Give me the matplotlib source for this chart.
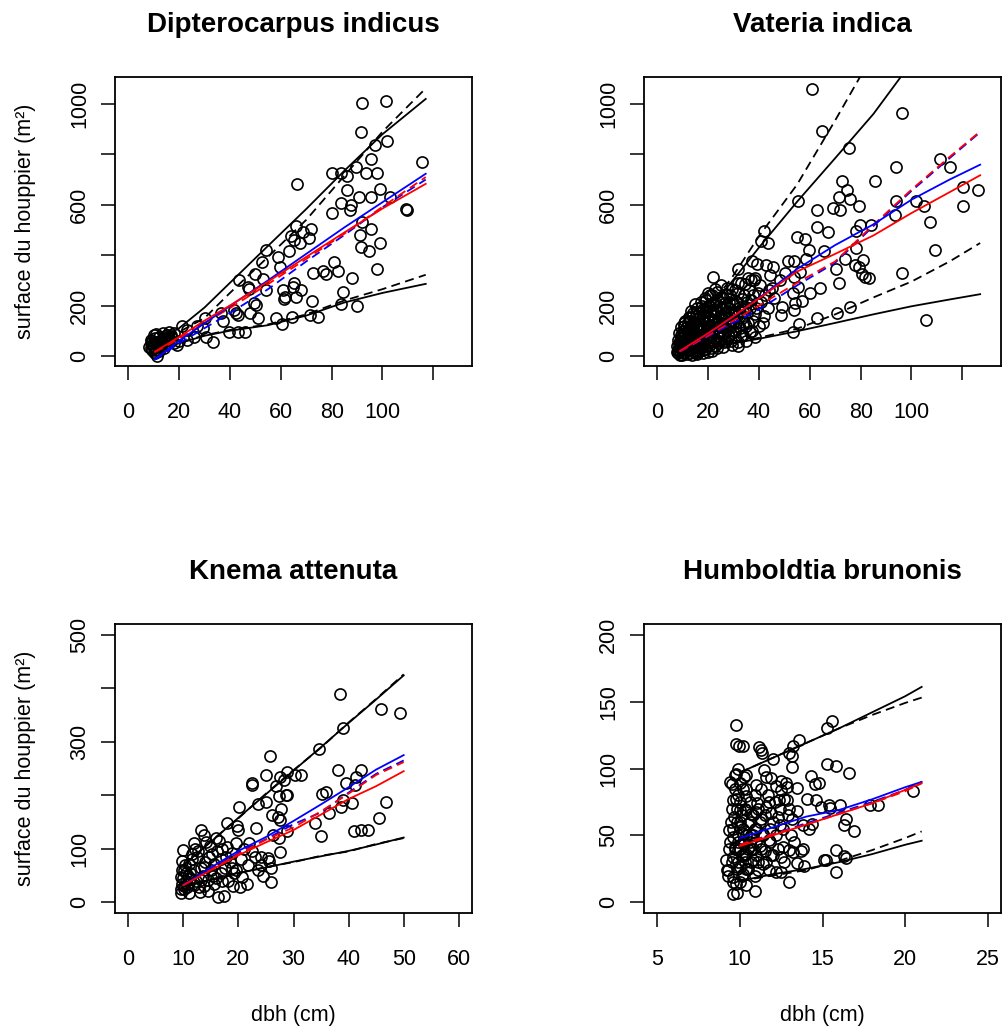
import matplotlib
matplotlib.use("Agg")
import matplotlib.pyplot as plt

plt.rcParams['font.family'] = ['Liberation Sans', 'DejaVu Sans']

# ---------------- Dipterocarpus indicus ----------------
dip_x = [92.1, 101.2, 91.4, 101.9, 97.0, 95.6, 115.7, 80.3, 83.5, 85.9, 89.4, 93.6, 97.7,
         66.5, 85.9, 99.0, 95.6, 90.8, 83.5, 87.5, 87.2, 103.0, 109.1, 109.5, 80.3, 92.1,
         91.1, 95.6, 91.4, 94.7, 99.0, 65.8, 63.9, 65.2, 67.5, 68.9, 71.7, 71.1, 63.2, 54.0,
         59.0, 59.7, 80.9, 82.5, 76.7, 77.6, 72.8, 87.9, 97.7, 52.7, 49.8, 53.0, 54.0, 43.5,
         47.1, 47.5, 61.0, 65.2, 64.9, 67.8, 61.5, 61.2, 65.8, 50.1, 49.4, 72.1, 84.6, 83.5,
         90.1, 36.3, 41.6, 42.2, 43.1, 47.9, 51.1, 58.2, 64.5, 71.5, 74.8, 60.3, 30.2, 37.4,
         29.5, 39.6, 43.3, 45.9, 21.2, 23.2, 27.1, 25.8, 23.2, 30.4, 33.4, 18.0, 19.3, 15.3,
         15.6, 14.4, 10.8, 11.4, 10.1, 9.4, 11.4, 10.5, 8.8, 8.1, 9.4, 12.0, 13.0, 16.0,
         17.0, 12.0, 14.0, 10.0, 17.0, 18.0, 20.0,
         9.0, 9.5, 10.0, 10.5, 11.0, 11.5, 12.0, 12.5, 13.0, 13.5, 14.0, 15.0, 16.0, 17.0,
         9.0, 10.0, 12.0, 14.0]
dip_y = [1004, 1011, 887, 852, 838, 781, 768, 726, 726, 713, 748, 726, 726,
         683, 657, 664, 630, 629, 607, 600, 580, 629, 584, 580, 567, 531,
         478, 505, 434, 415, 448, 514, 474, 461, 448, 490, 503, 468, 415, 421,
         391, 351, 372, 338, 338, 324, 331, 309, 344, 371, 324, 306, 262, 302,
         272, 265, 262, 291, 275, 262, 233, 225, 232, 203, 209, 219, 253, 205,
         199, 172, 183, 172, 163, 170, 152, 152, 156, 163, 156, 127, 150, 140,
         110, 94, 94, 94, 117, 101, 117, 77, 64, 77, 57, 50, 44, 83,
         77, 81, 87, 57, 37, 24, 0, 11, 50, 37, 60, 40, 55, 70,
         85, 30, 45, 15, 60, 90, 60,
         30, 45, 55, 70, 25, 45, 75, 60, 35, 90, 65, 50, 95, 75,
         65, 85, 20, 30]
dip_lx = [10.5, 20, 30, 40, 55, 70, 85, 100, 117]
dip_up = [55, 110, 192, 290, 437, 583, 735, 880, 1020]
dip_up_d = [55, 95, 150, 250, 393, 540, 715, 890, 1062]
dip_lo = [22, 50, 80, 100, 122, 160, 212, 250, 286]
dip_lo_d = [22, 52, 82, 103, 125, 165, 220, 265, 322]
dip_blue = [-13, 60, 130, 198, 300, 405, 510, 610, 723]
dip_red = [17, 75, 140, 200, 295, 393, 490, 585, 683]
dip_blue_d = [-15, 50, 110, 170, 265, 375, 480, 590, 700]
dip_red_d = [15, 68, 130, 190, 285, 385, 485, 592, 710]

# ---------------- Vateria indica ----------------
vat_x = [60.8, 65.0, 96.3, 55.3, 75.5, 111.4, 94.1, 115.0, 72.6, 85.8, 74.6, 71.3, 75.9,
         120.4, 126.2, 94.1, 101.6, 105.1, 120.4, 79.5, 62.8, 69.3, 72.0, 93.4, 107.2, 62.8,
         67.1, 79.9, 84.2, 78.2, 109.2, 42.1, 40.8, 43.7, 54.9, 58.2, 59.5, 65.4, 58.6, 51.6,
         53.9, 78.3, 73.9, 80.9, 77.6, 79.5, 80.5, 81.8, 83.2, 70.4, 96.1, 71.3, 64.1, 60.1,
         37.1, 39.1, 42.8, 45.7, 31.6, 22.0, 35.8, 38.4, 31.6, 44.1, 50.3, 56.2, 53.6, 48.3,
         55.3, 53.3, 54.2, 56.8, 48.9, 53.9, 48.7, 75.9, 70.7, 62.8, 105.9, 55.9, 53.3, 31.8,
         8.2, 8.5, 8.8, 9.0, 9.2, 9.5, 9.7, 9.9, 10.0, 10.3,
         10.5, 10.7, 10.9, 11.0, 11.2, 11.3, 11.5, 11.6, 11.8, 11.9, 12.0, 10.4, 11.1, 12.1,
         12.3, 12.4, 12.6, 12.7, 12.9, 13.0, 13.1, 13.3, 13.4, 13.6, 13.7, 13.8, 14.0, 14.0, 13.2, 12.8,
         14.2, 14.3, 14.5, 14.6, 14.8, 14.9, 15.0, 15.1, 15.3, 15.4, 15.6, 15.7, 15.8, 16.0, 15.9, 14.7,
         16.2, 16.3, 16.5, 16.6, 16.8, 17.0, 17.1, 17.3, 17.4, 17.6, 17.8, 17.9, 18.0, 18.0,
         18.3, 18.4, 18.6, 18.7, 18.9, 19.1, 19.2, 19.4, 19.5, 19.7, 19.8, 20.0, 20.0, 19.0,
         20.3, 20.5, 20.7, 20.9, 21.1, 21.3, 21.5, 21.7, 21.9, 22.1, 22.4, 22.6, 22.8, 23.0,
         23.2, 23.4, 23.6, 23.8, 24.0, 24.3, 24.5, 24.7, 25.0, 25.2, 25.4, 25.7, 25.9, 26.0,
         26.3, 26.6, 26.9, 27.2, 27.5, 27.8, 28.1, 28.4, 28.7, 29.0, 29.3, 29.6, 29.9, 30.0,
         30.4, 30.7, 31.0, 31.4, 31.8, 32.1, 32.5, 32.9, 33.3, 33.7, 34.1, 34.5, 34.8, 35.0,
         35.5, 36.0, 36.5, 37.0, 37.5, 38.0, 38.5, 39.0, 39.5, 40.0, 41.0, 42.0,
         7.6, 7.8, 8.0, 8.3, 8.6, 8.7, 9.1, 9.3, 9.4, 9.6, 9.8, 10.1, 10.2, 10.6, 10.8,
         11.4, 11.7, 12.2, 12.5, 12.5, 13.5, 13.9, 14.1, 14.4, 14.9, 15.2, 15.5, 16.1, 16.4,
         16.7, 16.9, 17.2, 17.5, 17.7, 18.1, 18.2, 18.5, 18.8, 19.0, 19.3, 19.6, 19.9, 20.2,
         20.4, 20.6, 20.8, 21.0, 21.4, 21.6, 21.8, 22.0, 22.3, 22.5, 22.7, 22.9, 23.1, 23.5,
         23.7, 23.9, 24.2, 24.4, 24.6, 24.9, 25.1, 25.3, 25.6, 25.8, 26.2, 26.5, 26.8, 27.0,
         27.4, 27.7, 28.0, 28.3, 28.6, 28.9, 29.2, 29.5, 29.8, 30.2, 30.6, 31.2, 31.6, 32.0,
         32.4, 32.8, 33.2, 33.6, 34.0, 34.4, 35.2, 35.8, 36.3, 36.8, 37.3, 37.8, 38.3, 39.3,
         40.5, 41.5, 42.5, 43.5, 44.5, 45.0, 46.0]
vat_y = [1060, 894, 964, 616, 825, 781, 748, 748, 693, 693, 657, 629, 623,
         670, 657, 616, 616, 596, 596, 596, 580, 589, 580, 560, 531, 510,
         491, 518, 518, 497, 421, 497, 457, 450, 470, 464, 421, 415, 385, 377,
         377, 428, 384, 379, 359, 351, 324, 315, 309, 344, 331, 291, 269, 249,
         377, 364, 359, 351, 344, 315, 309, 309, 291, 262, 328, 335, 315, 302,
         275, 249, 212, 219, 196, 183, 163, 193, 170, 150, 143, 127, 93, 40,
         10, 35, 60, 20, 85, 45, 5, 70, 100, 28,
         55, 15, 80, 40, 110, 25, 65, 8, 95, 48, 130, 120, 140, 20,
         75, 35, 105, 12, 55, 150, 85, 30, 120, 60, 5, 95, 42, 170, 180, 140,
         110, 22, 70, 135, 50, 15, 90, 160, 35, 120, 65, 190, 8, 100, 145, 205,
         45, 170, 80, 20, 125, 60, 215, 100, 32, 150, 75, 185, 12, 115,
         50, 160, 90, 230, 28, 130, 70, 195, 105, 45, 250, 140, 15, 175,
         85, 200, 120, 55, 165, 30, 240, 100, 180, 65, 140, 215, 40, 110,
         175, 80, 255, 130, 50, 200, 100, 160, 70, 235, 120, 185, 35, 145,
         90, 210, 160, 60, 270, 120, 190, 80, 240, 140, 45, 205, 100, 170,
         260, 75, 130, 215, 55, 180, 110, 290, 150, 85, 240, 195, 120, 60,
         170, 260, 95, 220, 140, 300, 75, 190, 250, 120, 215, 160,
         15, 40, 65, 25, 90, 50, 5, 115, 30, 75, 55, 12, 85, 130, 35,
         50, 100, 70, 155, 45, 100, 20, 135, 80, 55, 175, 10, 70, 120,
         160, 35, 85, 200, 55, 140, 25, 110, 175, 65, 220, 85, 160, 40,
         115, 180, 240, 80, 135, 20, 205, 100, 160, 60, 265, 185, 130, 30,
         90, 220, 150, 60, 120, 280, 190, 85, 145, 230, 55, 170, 110, 245,
         195, 85, 150, 215, 120, 60, 175, 265, 130, 205, 100, 160, 250, 120,
         195, 80, 225, 175, 135, 285, 215, 130, 190, 300, 100, 240, 165, 210,
         280, 130, 240, 190, 320, 270, 230]
vat_lx = [9, 20, 30, 40, 55, 70, 85, 100, 115, 127]
vat_up = [40, 175, 303, 430, 612, 785, 960, 1165, 1350, 1490]
vat_up_d = [40, 185, 320, 475, 680, 935, 1200, 1450, 1700, 1900]
vat_lo = [11, 32, 50, 68, 98, 131, 165, 197, 224, 245]
vat_lo_d = [11, 32, 52, 72, 108, 165, 232, 295, 375, 448]
vat_blue = [20, 88, 156, 230, 345, 440, 522, 620, 700, 759]
vat_red = [20, 90, 158, 228, 335, 405, 478, 567, 650, 717]
vat_blue_d = [18, 78, 132, 185, 280, 370, 515, 655, 785, 888]
vat_red_d = [18, 80, 140, 200, 290, 375, 520, 660, 790, 891]

# ---------------- Knema attenuta ----------------
kne_x = [38.4, 45.8, 49.3, 39.0, 34.7, 25.7, 38.1, 42.2, 41.3, 39.6, 41.2, 25.0, 27.6,
         28.8, 30.3, 31.3, 28.2, 26.8, 28.6, 28.9, 27.4, 35.2, 35.9, 22.4, 22.5, 20.1,
         23.6, 25.0, 46.7, 38.9, 38.6, 40.7, 36.5, 26.1, 27.1, 27.7, 27.6, 45.5, 33.9,
         35.0, 40.9, 42.2, 43.6, 18.0, 19.7, 20.0, 23.2, 13.2, 14.2, 14.8, 16.5, 18.0,
         18.9, 21.0, 26.2, 28.9, 27.6, 27.4, 23.0, 24.1, 25.4, 25.6, 24.1, 26.0, 9.9,
         9.8, 11.0, 12.5, 13.8, 15.6, 16.8, 19.2, 20.7, 21.5, 23.5, 26.0, 16.3, 17.3,
         9.5, 9.8, 9.5, 10.7, 11.9, 13.2, 14.4, 15.6, 10.2, 10.5, 11.2, 12.0, 12.8,
         13.5, 14.0, 15.0, 15.2, 16.0, 16.8, 17.5, 18.2, 18.5, 19.5, 20.5, 11.5, 12.2,
         17.0, 21.8, 22.5, 13.0, 10.1, 10.4, 11.0, 14.5, 19.0, 20.3, 24.5, 22.0, 16.0,
         9.6, 9.7, 10.0, 10.3, 10.6, 11.3, 11.6, 12.3, 12.6, 13.3, 13.8, 14.6, 15.3, 16.2,
         17.1, 17.8, 18.8, 19.6, 12.0, 13.8, 10.2, 10.8]
kne_y = [390, 361, 354, 326, 286, 273, 247, 247, 234, 222, 219, 237, 234,
         243, 237, 237, 228, 217, 201, 201, 198, 203, 207, 222, 220, 178,
         184, 187, 187, 192, 178, 186, 166, 163, 159, 175, 154, 158, 149,
         123, 133, 136, 136, 149, 143, 136, 139, 136, 113, 106, 115, 103,
         93, 100, 125, 134, 94, 120, 85, 85, 82, 78, 69, 64, 97,
         78, 72, 85, 66, 72, 54, 54, 47, 35, 60, 38, 10, 12,
         47, 35, 17, 29, 32, 41, 22, 35, 25, 55, 45, 60, 28,
         50, 75, 60, 90, 45, 80, 65, 40, 75, 60, 80, 90, 100,
         100, 70, 95, 20, 60, 40, 18, 42, 30, 28, 50, 110, 120,
         25, 60, 45, 70, 35, 55, 80, 40, 95, 65, 30, 85, 50, 95,
         40, 85, 65, 110, 110, 125, 30, 50]
kne_lx = [10, 15, 20, 25, 30, 35, 40, 45, 50]
kne_up = [69, 113, 158, 202, 246, 290, 335, 379, 424]
kne_up_d = [69, 114, 157, 203, 247, 289, 336, 380, 426]
kne_lo = [29, 42, 55, 65, 76, 86, 96, 108, 121]
kne_lo_d = [29, 43, 54, 66, 75, 87, 95, 109, 120]
kne_blue = [32, 65, 96, 122, 152, 183, 215, 248, 275]
kne_red = [32, 60, 88, 112, 135, 164, 193, 217, 245]
kne_blue_d = [32, 62, 92, 118, 146, 168, 205, 240, 265]
kne_red_d = [32, 61, 90, 117, 140, 170, 203, 238, 262]

# ---------------- Humboldtia brunonis ----------------
hum_x = [9.74, 9.74, 9.94, 10.18, 11.15, 11.25, 11.35, 12.00, 13.00, 13.17, 13.57, 13.21,
         13.17, 15.28, 15.58, 15.28, 15.79, 16.63, 11.45, 11.59, 11.90, 9.74, 9.68, 10.24,
         9.52, 10.02, 14.31, 14.52, 14.78, 12.50, 12.80, 12.84, 13.47, 14.07, 14.58, 14.92,
         12.36, 12.86, 12.70, 11.05, 11.59, 11.79, 9.58, 9.78, 10.38, 17.90, 18.35, 20.46,
         16.03, 15.42, 16.43, 16.33, 16.88, 15.48, 14.21, 14.38, 13.81, 13.15, 13.00, 13.47,
         11.90, 12.30, 11.29, 10.99, 10.69, 10.38, 9.98, 9.64, 9.48, 9.37, 9.58, 10.18,
         10.79, 11.39, 11.79, 12.60, 12.96, 12.50, 13.21, 13.81, 13.71, 13.47, 13.91, 15.79,
         15.12, 15.22, 16.33, 16.43, 15.79, 13.00, 11.79, 12.20, 12.50, 11.09, 11.39, 9.17,
         9.27, 9.58, 9.78, 10.38, 10.89, 9.58, 9.82, 9.23, 10.18, 10.02, 9.58, 9.88,
         10.38, 10.79, 10.28, 9.68, 9.37, 9.98, 10.48, 10.89, 9.9, 10.1, 10.0, 9.8,
         10.3, 10.6, 10.2, 9.9, 10.4, 10.0, 10.7, 11.0, 11.2, 11.5, 11.8, 12.2, 12.4, 12.0,
         9.3, 9.4, 9.5, 9.5, 9.6, 9.6, 9.7, 9.7, 9.8, 9.8, 9.9, 9.9, 10.0, 10.0, 10.1,
         10.1, 10.2, 10.2, 10.3, 10.3, 10.4, 10.4, 10.5, 10.5, 10.6, 10.6, 10.7, 10.7, 10.8,
         10.8, 10.9, 10.9, 11.0, 11.0, 11.1, 11.1, 11.2, 11.3, 11.3, 11.4, 11.5, 11.6, 11.7,
         11.8, 11.9, 12.0, 12.1, 12.3, 12.4, 12.6, 12.7, 12.9, 13.1, 13.3, 9.4, 9.9, 10.4,
         11.0, 12.2, 12.5]
hum_y = [132.3, 118.1, 116.8, 116.8, 116.1, 113.6, 111.6, 107.3, 111.6, 109.3, 121.0, 116.8,
         101.1, 130.3, 135.5, 103.6, 101.6, 96.9, 98.6, 93.6, 92.9, 96.1, 94.9, 93.6,
         88.7, 89.2, 94.4, 88.7, 89.2, 90.4, 89.2, 86.2, 85.4, 77.5, 76.7, 71.2,
         76.7, 76.2, 77.5, 74.2, 71.2, 75.0, 76.2, 77.5, 79.2, 72.5, 72.5, 82.9,
         72.5, 72.5, 62.3, 58.0, 53.1, 70.7, 55.0, 58.8, 57.5, 62.5, 70.0, 68.2,
         67.0, 63.8, 62.5, 67.5, 66.3, 68.7, 69.2, 63.8, 60.0, 53.8, 48.8, 51.3,
         50.1, 51.3, 46.3, 41.3, 38.9, 33.9, 37.6, 40.1, 38.4, 29.4, 26.9, 38.9,
         31.9, 31.4, 34.4, 33.4, 22.7, 15.2, 23.9, 22.7, 22.7, 24.4, 28.9, 31.4,
         24.4, 18.9, 13.9, 13.2, 8.5, 6.0, 7.0, 23.9, 21.4, 26.4, 33.9, 38.9,
         36.4, 31.4, 43.8, 41.3, 40.1, 56.3, 58.8, 55.0, 45, 35, 60, 70,
         30, 45, 85, 80, 25, 15, 40, 35, 42, 38, 55, 50, 58, 35,
         20, 45, 30, 70, 55, 15, 40, 85, 25, 60, 30, 50, 40, 75, 20,
         65, 45, 55, 35, 70, 50, 85, 25, 40, 60, 75, 30, 50, 65,
         40, 20, 80, 55, 45, 70, 30, 60, 85, 40, 50, 65, 30, 80,
         45, 35, 60, 75, 40, 70, 55, 30, 65, 50, 45, 90, 100, 95,
         88, 87, 84]
hum_lx = [10, 12, 14, 16, 18, 20, 21]
hum_up = [97, 108, 119, 130, 142, 154, 161]
hum_up_d = [97, 108, 119, 130, 140, 149, 153]
hum_lo = [16, 21, 25, 30, 36, 43, 46]
hum_lo_d = [16, 20, 24, 31, 39, 48, 53]
hum_blue = [48, 56, 64, 69, 77, 86, 90]
hum_red = [42, 50, 58, 66, 74, 84, 89]
hum_blue_d = [43, 51, 59, 67, 75, 84, 90]
hum_red_d = [43, 51, 58, 66, 74, 83, 89]

DASH = (0, (5, 3))


def draw_panel(ax, title, px, py, lx, lines, xlim, ylim, xticks, xlabels, yticks, ylabels,
               left=False, bottom=False):
    ax.plot(px, py, 'o', mfc='none', mec='black', ms=8, mew=1.2, zorder=2)
    up, up_d, lo, lo_d, blue, red, blue_d, red_d = lines
    ax.plot(lx, up, color='black', lw=1.3, zorder=3)
    ax.plot(lx, up_d, color='black', lw=1.3, ls=DASH, zorder=3)
    ax.plot(lx, lo, color='black', lw=1.3, zorder=3)
    ax.plot(lx, lo_d, color='black', lw=1.3, ls=DASH, zorder=3)
    ax.plot(lx, blue_d, color='#0000FF', lw=1.3, ls=DASH, zorder=3)
    ax.plot(lx, red_d, color='#FF0000', lw=1.3, ls=DASH, zorder=3)
    ax.plot(lx, blue, color='#0000FF', lw=1.3, zorder=4)
    ax.plot(lx, red, color='#FF0000', lw=1.3, zorder=4)

    ax.set_xlim(xlim)
    ax.set_ylim(ylim)
    ax.set_xticks(xticks)
    ax.set_xticklabels(xlabels)
    ax.set_yticks(yticks)
    ax.set_yticklabels(ylabels, rotation=90, va='center')
    ax.tick_params(axis='both', direction='out', length=10, width=1.1, labelsize=15.5)
    ax.tick_params(axis='x', pad=16)
    ax.tick_params(axis='y', pad=8)
    for sp in ax.spines.values():
        sp.set_linewidth(1.3)

    ax.text(0.5, 1 + 52 / 289, title, transform=ax.transAxes, ha='center', va='center',
            fontsize=20, fontweight='bold')
    if left:
        ax.text(-0.252, 0.5, 'surface du houppier (m²)', transform=ax.transAxes,
                ha='center', va='center', rotation=90, fontsize=15.5)
    if bottom:
        ax.text(0.5, -0.353, 'dbh (cm)', transform=ax.transAxes,
                ha='center', va='center', fontsize=15.5)


def generate_output_image():
    fig = plt.figure(figsize=(10.03, 10.27), dpi=100)
    w, h = 357 / 1003, 289 / 1027
    ax1 = fig.add_axes([115 / 1003, 1 - 366 / 1027, w, h])
    ax2 = fig.add_axes([644 / 1003, 1 - 366 / 1027, w, h])
    ax3 = fig.add_axes([115 / 1003, 1 - 913 / 1027, w, h])
    ax4 = fig.add_axes([644 / 1003, 1 - 913 / 1027, w, h])

    big_xt = [0, 20, 40, 60, 80, 100, 120]
    big_xl = ['0', '20', '40', '60', '80', '100', '']
    big_yt = [0, 200, 400, 600, 800, 1000]
    big_yl = ['0', '200', '', '600', '', '1000']

    draw_panel(ax1, 'Dipterocarpus indicus', dip_x, dip_y, dip_lx,
               [dip_up, dip_up_d, dip_lo, dip_lo_d, dip_blue, dip_red, dip_blue_d, dip_red_d],
               (-5.2, 135.2), (-40, 1107), big_xt, big_xl, big_yt, big_yl, left=True)
    draw_panel(ax2, 'Vateria indica', vat_x, vat_y, vat_lx,
               [vat_up, vat_up_d, vat_lo, vat_lo_d, vat_blue, vat_red, vat_blue_d, vat_red_d],
               (-5.2, 135.2), (-40, 1107), big_xt, big_xl, big_yt, big_yl)
    draw_panel(ax3, 'Knema attenuta', kne_x, kne_y, kne_lx,
               [kne_up, kne_up_d, kne_lo, kne_lo_d, kne_blue, kne_red, kne_blue_d, kne_red_d],
               (-2.4, 62.4), (-20, 520), [0, 10, 20, 30, 40, 50, 60],
               ['0', '10', '20', '30', '40', '50', '60'],
               [0, 100, 200, 300, 400, 500], ['0', '100', '', '300', '', '500'],
               left=True, bottom=True)
    draw_panel(ax4, 'Humboldtia brunonis', hum_x, hum_y, hum_lx,
               [hum_up, hum_up_d, hum_lo, hum_lo_d, hum_blue, hum_red, hum_blue_d, hum_red_d],
               (4.2, 25.8), (-8, 208), [5, 10, 15, 20, 25], ['5', '10', '15', '20', '25'],
               [0, 50, 100, 150, 200], ['0', '50', '100', '150', '200'], bottom=True)

    fig.savefig("out.png", dpi=100)


if __name__ == "__main__":
    generate_output_image()
